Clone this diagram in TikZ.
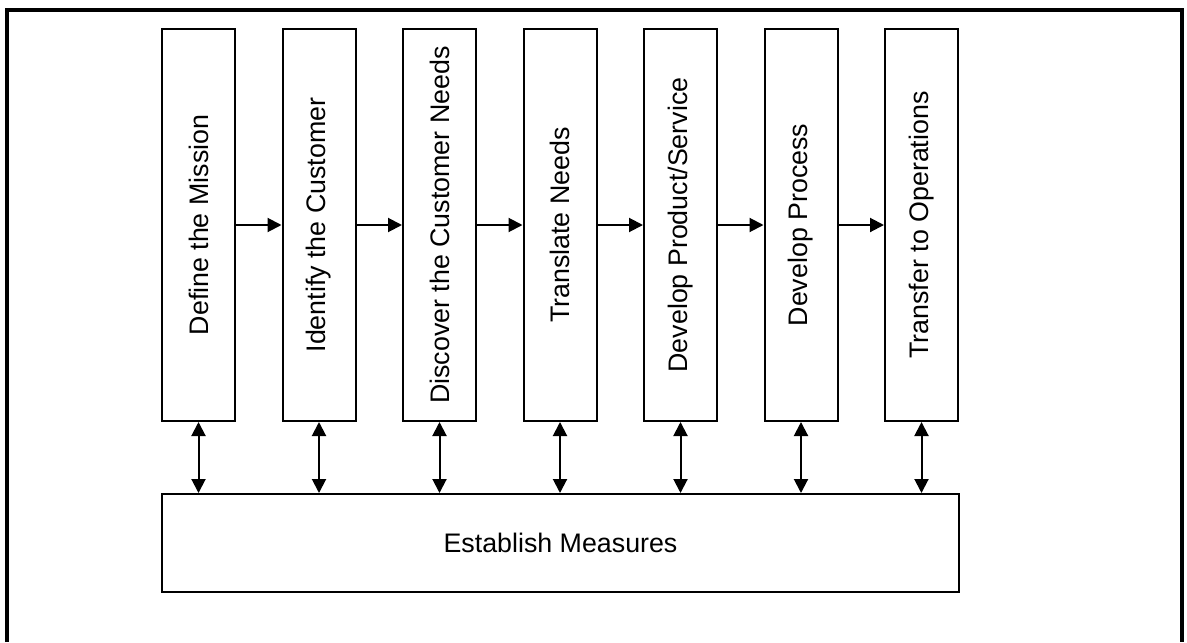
\documentclass[tikz,border=0pt]{standalone}
\usepackage{fontspec}
\setmainfont{Liberation Sans}
\usetikzlibrary{arrows.meta}
\begin{document}
\begin{tikzpicture}[x=0.5pt,y=-0.5pt,
  stepbox/.style={draw,line width=1pt,minimum width=36.5pt,minimum height=196pt,inner sep=0pt},
  steptext/.style={rotate=90,font=\fontsize{13.4pt}{15pt}\selectfont},
  basebox/.style={draw,line width=1pt,minimum width=398.5pt,minimum height=49pt,inner sep=0pt,font=\fontsize{13.4pt}{15pt}\selectfont},
  conn/.style={line width=1pt,-{Triangle[length=7pt,width=7pt]}},
  dconn/.style={line width=1pt,{Triangle[length=7pt,width=7pt]}-{Triangle[length=7pt,width=7pt]}}]
\useasboundingbox (0,0) rectangle (1187,642);
\draw[line width=2pt] (7,642) -- (7,10) -- (1182,10) -- (1182,642);
\foreach \i/\t in {1/{Define the Mission},2/{Identify the Customer},3/{Discover the Customer Needs},4/{Translate Needs},5/{Develop Product/Service},6/{Develop Process},7/{Transfer to Operations}}{
  \node[stepbox] (s\i) at ({198.5+(\i-1)*120.5},225) {};
  \node[steptext] (t\i) at (s\i.center) {\t};
}
\node[basebox] (m) at (560.5,543) {Establish Measures};
\foreach \i [evaluate=\i as \j using int(\i+1)] in {1,...,6}{
  \draw[conn] (s\i.east) -- (s\j.west);
}
\foreach \i in {1,...,7}{
  \draw[dconn] (s\i.south) -- (s\i.south |- m.north);
}
\end{tikzpicture}
\end{document}
